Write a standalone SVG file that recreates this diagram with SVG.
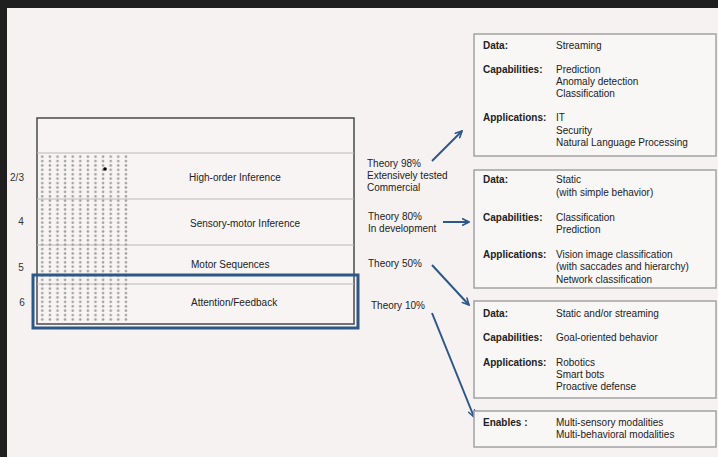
<svg xmlns="http://www.w3.org/2000/svg" width="718" height="457" viewBox="0 0 718 457">
<style>
text{font-family:"Liberation Sans",Arial,sans-serif;font-size:10px;fill:#222}
.b{font-weight:bold}
.num{font-size:10px;fill:#333}
.card{fill:#f9f6f6;stroke:#a3a3a3;stroke-width:1.5}
.div{stroke:#b8b8b8;stroke-width:1}
.arr{stroke:#2c5787;stroke-width:2;fill:none;marker-end:url(#ah)}
</style>
<defs>
<marker id="ah" viewBox="0 0 10 10" refX="9" refY="5" markerWidth="4" markerHeight="4" orient="auto" markerUnits="strokeWidth">
<path d="M1,1 L9,5 L1,9" fill="none" stroke="#2c5787" stroke-width="2" stroke-linejoin="miter" stroke-linecap="round"/>
</marker>
<pattern id="dots" patternUnits="userSpaceOnUse" x="38.5" y="154.5" width="7.6" height="4.4">
<circle cx="3.8" cy="2.2" r="1.3" fill="#a0a0a0"/>
</pattern>
</defs>
<rect x="0" y="0" width="718" height="457" fill="#f7f2f2"/>
<rect x="0" y="0" width="718" height="8" fill="#1f1f1f"/>
<rect x="0" y="0" width="7" height="457" fill="#1f1f1f"/>

<g id="layers">
<rect x="37" y="118" width="317" height="206" fill="#f8f4f4" stroke="#4a4a4a" stroke-width="1.5"/>
<line class="div" x1="37" y1="153" x2="354" y2="153"/>
<line class="div" x1="37" y1="199" x2="354" y2="199"/>
<line class="div" x1="37" y1="245" x2="354" y2="245"/>
<line class="div" x1="37" y1="284" x2="354" y2="284"/>
<rect x="39" y="155" width="92" height="167" fill="url(#dots)"/>
<circle cx="105" cy="169" r="1.8" fill="#000"/>
<text x="189" y="181">High-order Inference</text>
<text x="190" y="227">Sensory-motor Inference</text>
<text x="191" y="268">Motor Sequences</text>
<text x="191" y="306">Attention/Feedback</text>
<text class="num" x="17" y="181" text-anchor="middle">2/3</text>
<text class="num" x="21" y="225" text-anchor="middle">4</text>
<text class="num" x="21" y="271" text-anchor="middle">5</text>
<text class="num" x="22" y="306" text-anchor="middle">6</text>
</g>
<g id="highlight">
<rect x="33" y="275" width="325" height="53" fill="none" stroke="#2c5787" stroke-width="3"/>
</g>

<g id="theory">
<text x="367" y="167">Theory 98%</text>
<text x="367" y="179">Extensively tested</text>
<text x="367" y="191">Commercial</text>
<text x="368" y="220">Theory 80%</text>
<text x="368" y="232">In development</text>
<text x="368" y="267">Theory 50%</text>
<text x="371" y="309">Theory 10%</text>
</g>

<g id="connectors">
<line class="arr" x1="432" y1="161" x2="462" y2="131"/>
<line class="arr" x1="443" y1="222" x2="469" y2="222"/>
<line class="arr" x1="432" y1="265" x2="469" y2="305"/>
<line class="arr" x1="432" y1="313" x2="474" y2="417"/>
</g>

<g id="card1">
<rect class="card" x="474" y="34" width="242" height="122"/>
<text class="b" x="483" y="49">Data:</text>
<text x="556" y="49">Streaming</text>
<text class="b" x="483" y="73">Capabilities:</text>
<text x="556" y="73">Prediction</text>
<text x="556" y="85">Anomaly detection</text>
<text x="556" y="97">Classification</text>
<text class="b" x="483" y="121">Applications:</text>
<text x="556" y="121">IT</text>
<text x="556" y="134">Security</text>
<text x="556" y="146">Natural Language Processing</text>
</g>

<g id="card2">
<rect class="card" x="474" y="170" width="242" height="118"/>
<text class="b" x="483" y="183">Data:</text>
<text x="556" y="183">Static</text>
<text x="556" y="196">(with simple behavior)</text>
<text class="b" x="483" y="221">Capabilities:</text>
<text x="556" y="221">Classification</text>
<text x="556" y="233">Prediction</text>
<text class="b" x="483" y="258">Applications:</text>
<text x="556" y="258">Vision image classification</text>
<text x="556" y="270">(with saccades and hierarchy)</text>
<text x="556" y="283">Network classification</text>
</g>

<g id="card3">
<rect class="card" x="474" y="301" width="242" height="97"/>
<text class="b" x="483" y="317">Data:</text>
<text x="556" y="317">Static and/or streaming</text>
<text class="b" x="483" y="341">Capabilities:</text>
<text x="556" y="341">Goal-oriented behavior</text>
<text class="b" x="483" y="366">Applications:</text>
<text x="556" y="366">Robotics</text>
<text x="556" y="378">Smart bots</text>
<text x="556" y="390">Proactive defense</text>
</g>

<g id="card4">
<rect class="card" x="474" y="411" width="242" height="36"/>
<text class="b" x="483" y="426">Enables :</text>
<text x="556" y="426">Multi-sensory modalities</text>
<text x="556" y="438">Multi-behavioral modalities</text>
</g>
</svg>
